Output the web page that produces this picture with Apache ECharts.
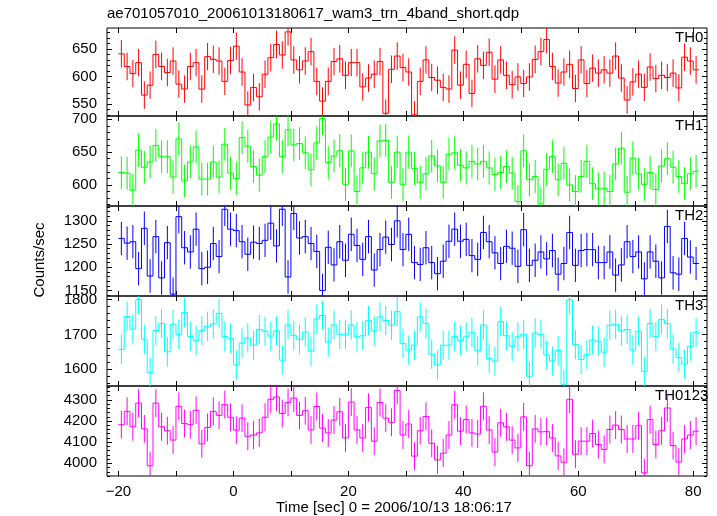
<!DOCTYPE html>
<html><head><meta charset="utf-8">
<script src="https://cdn.jsdelivr.net/npm/echarts@6/dist/echarts.min.js"></script>
<style>html,body{margin:0;padding:0;background:#fff}#c{width:717px;height:516px}</style>
</head><body><div id="c"></div>
<script>
// time bins: 1 s wide, first bin starts at -20 s
const binStart = -20;
const binWidth = 1;
const th0 = [641,618,605,625,566,584,640,618,607,628,
  586,577,618,625,577,636,631,628,591,629,
  655,608,548,580,563,604,634,658,639,681,
  630,612,628,645,591,555,591,627,632,602,
  625,625,581,597,604,627,533,613,637,616,
  608,530,591,630,598,593,580,577,648,584,
  622,569,632,620,644,595,630,602,585,599,
  587,599,631,645,667,618,588,608,622,578,
  630,587,615,606,612,606,637,597,557,590,
  604,580,617,596,602,598,606,579,635,628,
  612];
const th1 = [619,618,592,653,627,635,660,643,643,612,
  670,606,635,658,609,609,635,612,662,618,
  610,672,659,628,615,643,673,693,643,684,
  661,663,649,623,664,701,634,644,652,601,
  652,590,626,650,617,667,668,604,650,601,
  650,625,604,617,644,629,604,647,649,630,
  626,636,632,636,626,616,619,628,618,575,
  652,608,613,571,624,643,608,633,600,590,
  613,636,602,594,595,590,632,656,589,641,
  617,601,619,593,629,640,627,613,602,617,
  621];
const th2 = [1262,1252,1255,1197,1284,1181,1266,1177,1253,1142,
  1309,1242,1233,1282,1197,1200,1251,1223,1325,1282,
  1279,1255,1228,1254,1251,1258,1295,1246,1325,1179,
  1316,1263,1266,1251,1234,1150,1243,1205,1255,1215,
  1271,1247,1217,1266,1194,1238,1265,1249,1300,1238,
  1271,1210,1206,1242,1210,1186,1213,1256,1282,1256,
  1260,1225,1217,1275,1255,1231,1208,1245,1241,1202,
  1281,1204,1215,1233,1218,1236,1185,1208,1275,1204,
  1236,1238,1238,1210,1210,1233,1183,1205,1255,1223,
  1233,1175,1233,1213,1177,1288,1188,1185,1262,1222,
  1208];
const th3 = [1657,1751,1715,1800,1686,1590,1711,1731,1650,1729,
  1700,1763,1694,1683,1711,1723,1730,1760,1694,1689,
  1612,1675,1690,1669,1714,1709,1695,1710,1626,1727,
  1697,1686,1707,1652,1744,1754,1678,1727,1700,1700,
  1727,1693,1696,1740,1710,1750,1740,1726,1765,1674,
  1655,1669,1750,1731,1643,1612,1669,1669,1694,1682,
  1693,1706,1653,1727,1631,1623,1737,1696,1666,1693,
  1700,1580,1704,1700,1641,1623,1654,1557,1799,1671,
  1628,1642,1684,1680,1649,1726,1729,1710,1714,1655,
  1709,1594,1731,1694,1743,1731,1658,1634,1615,1666,
  1706];
const th0123 = [4183,4246,4173,4285,4163,3988,4285,4173,4154,4110,
  4270,4188,4183,4251,4092,4170,4246,4227,4278,4218,
  4157,4214,4128,4134,4144,4218,4303,4314,4236,4288,
  4309,4227,4249,4158,4269,4167,4144,4205,4244,4120,
  4290,4158,4120,4265,4105,4288,4214,4194,4345,4134,
  4186,4034,4154,4222,4095,4016,4048,4134,4277,4152,
  4207,4144,4139,4270,4158,4053,4192,4173,4110,4073,
  4220,3988,4163,4149,4150,4120,4035,4005,4303,4043,
  4105,4105,4141,4089,4066,4160,4181,4160,4115,4115,
  4178,3955,4207,4089,4154,4262,4084,4006,4115,4134,
  4152];
// half-length of the error bars, per panel
const errHalf = [25, 25, 36, 42, 66];

const panelNames = ['TH0','TH1','TH2','TH3','TH0123'];
const panelSeries = [th0, th1, th2, th3, th0123];
const colors = ['#ff0000','#00ff00','#0000ff','#00ffff','#ff00ff'];
const yMin = [528, 568, 1138, 1552, 3940];
const yMax = [688, 705, 1332, 1810, 4366];
const yMajor = [[550,600,650],[600,650,700],[1150,1200,1250,1300],[1600,1700,1800],[4000,4100,4200,4300]];
const yMinorStep = [10, 10, 10, 20, 20];
const xMin = -22, xMax = 82.4;
const xTickValues = [-20,-10,0,10,20,30,40,50,60,70,80];
const xLabelValues = [-20,0,20,40,60,80];
const titleText = 'ae701057010_20061013180617_wam3_trn_4band_short.qdp';
const xTitle = 'Time [sec] 0 = 2006/10/13 18:06:17';
const yTitle = 'Counts/sec';

const FONT = '"Liberation Sans", Arial, Helvetica, sans-serif';
const gridTop = [28, 116, 206, 296, 386];
const gridH = [88, 90, 90, 90, 90];

const grids = [], xAxes = [], yAxes = [], series = [], graphics = [];
const fmtMinus = v => (v < 0 ? '\u2212' + (-v) : String(v));
const fmtPlain = v => String(v);

function minorList(p){
  const out = [];
  const s = yMinorStep[p];
  for (let v = Math.ceil(yMin[p] / s) * s; v <= yMax[p]; v += s) out.push(v);
  return out;
}
function xAx(p, pos, labels){
  return {
    type:'value', gridIndex:p, position:pos, min:xMin, max:xMax,
    axisLine:{show:false, onZero:false}, splitLine:{show:false},
    axisTick:{show:true, inside:true, length:5, customValues:xTickValues, lineStyle:{color:'#000', width:1}},
    axisLabel: labels ? {show:true, customValues:xLabelValues, formatter:fmtMinus, color:'#000', fontSize:15, fontFamily:FONT, margin:8}
                      : {show:false}
  };
}
function yAx(p, pos, vals, len, labels){
  return {
    type:'value', gridIndex:p, position:pos, min:yMin[p], max:yMax[p],
    axisLine:{show:false, onZero:false}, splitLine:{show:false},
    axisTick:{show:true, inside:true, length:len, customValues:vals, lineStyle:{color:'#000', width:1}},
    axisLabel: labels ? {show:true, customValues:vals, formatter:fmtPlain, color:'#000', fontSize:15, fontFamily:FONT, margin:10}
                      : {show:false}
  };
}

for (let p = 0; p < 5; p++){
  grids.push({left:107, width:600, top:gridTop[p], height:gridH[p], show:true, borderColor:'#000', borderWidth:1, backgroundColor:'transparent'});
  xAxes.push(xAx(p, 'bottom', p === 4));
  xAxes.push(xAx(p, 'top', false));
  yAxes.push(yAx(p, 'left', yMajor[p], 5, true));
  yAxes.push(yAx(p, 'left', minorList(p), 3, false));
  yAxes.push(yAx(p, 'right', yMajor[p], 5, false));
  yAxes.push(yAx(p, 'right', minorList(p), 3, false));

  const vals = panelSeries[p];
  const errData = [], stepData = [];
  for (let i = 0; i < vals.length; i++){
    const t0 = binStart + i * binWidth, t1 = t0 + binWidth;
    errData.push([t0 + binWidth / 2, vals[i], errHalf[p]]);
    stepData.push([t0, t1, vals[i], i > 0 ? vals[i - 1] : vals[i]]);
  }
  series.push({
    type:'custom', xAxisIndex:2 * p, yAxisIndex:4 * p, clip:true, z:2, silent:true,
    itemStyle:{color:colors[p]},
    encode:{x:0, y:1},
    data:errData,
    renderItem:(params, api) => {
      const t = api.value(0), v = api.value(1), e = api.value(2);
      const a = api.coord([t, v - e]), b = api.coord([t, v + e]);
      return {type:'line', shape:{x1:a[0], y1:a[1], x2:b[0], y2:b[1]}, style:{stroke:api.visual('color'), lineWidth:1}};
    }
  });
  series.push({
    type:'custom', xAxisIndex:2 * p, yAxisIndex:4 * p, clip:true, z:3, silent:true,
    itemStyle:{color:colors[p]},
    encode:{x:[0,1], y:[2,3]},
    data:stepData,
    renderItem:(params, api) => {
      const x0 = api.value(0), x1 = api.value(1), v = api.value(2), vp = api.value(3);
      const a = api.coord([x0, vp]), b = api.coord([x0, v]), c = api.coord([x1, v]);
      return {type:'polyline', shape:{points:[a, b, c]}, style:{stroke:api.visual('color'), fill:null, lineWidth:1}};
    }
  });
  graphics.push({
    type:'text', left: p === 4 ? 655 : 675, top:gridTop[p] + 2,
    style:{text:panelNames[p], fill:'#000', font:'15px ' + FONT}
  });
}
graphics.push({type:'text', left:107, top:6, style:{text:titleText, fill:'#000', font:'15px ' + FONT}});
graphics.push({type:'text', x:276, y:508, style:{text:xTitle, fill:'#000', font:'15px ' + FONT, align:'left', verticalAlign:'middle'}});
graphics.push({type:'text', x:40, y:260, rotation:Math.PI / 2, style:{text:yTitle, fill:'#000', font:'15px ' + FONT, align:'center', verticalAlign:'middle'}});

const chart = echarts.init(document.getElementById('c'), null, {renderer:'canvas'});
chart.setOption({
  animation:false,
  backgroundColor:'#fff',
  grid:grids, xAxis:xAxes, yAxis:yAxes, series:series, graphic:graphics
});
</script></body></html>
